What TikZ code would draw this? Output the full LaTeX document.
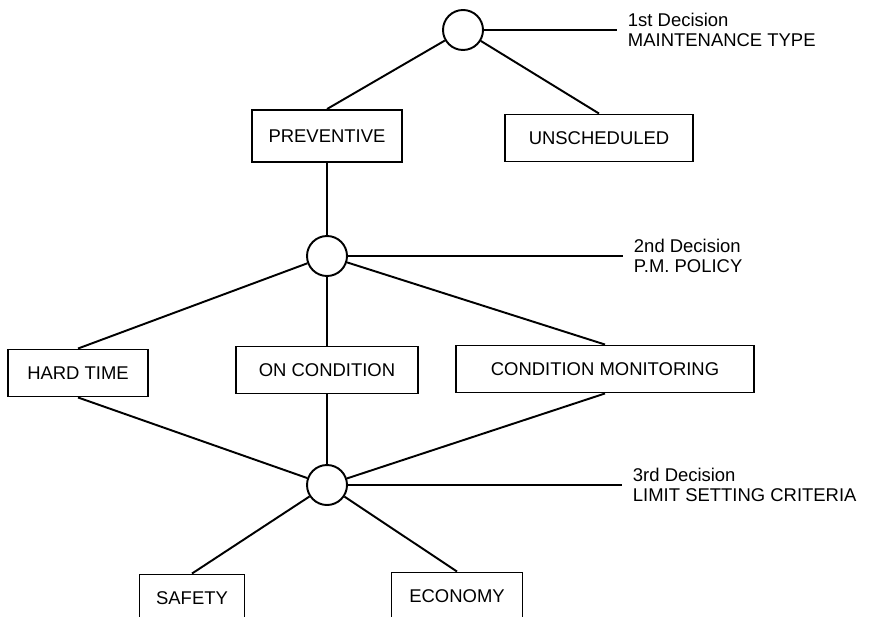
\documentclass[tikz,border=0pt]{standalone}
\usepackage{fontspec}
\setmainfont{Liberation Sans}
\begin{document}
\fontsize{10.5}{11.6}\selectfont
\begin{tikzpicture}[x=1cm,y=1cm,line width=1.1pt,
  choice/.style={draw,circle,minimum size=0.8cm,inner sep=0pt},
  box/.style={draw,rectangle,minimum height=0.94cm,inner sep=2pt},
  note/.style={anchor=west,align=left,inner sep=0.2cm}]
\useasboundingbox (0,0) rectangle (17.42,12.32);

\node[choice] (d1) at (9.26,11.72) {};
\node[choice] (d2) at (6.54,7.20) {};
\node[choice] (d3) at (6.54,2.62) {};

\node[box,minimum width=3.0cm,minimum height=1.04cm] (prev) at (6.54,9.60) {PREVENTIVE};
\node[box,minimum width=3.76cm] (unsch) at (11.98,9.56) {UNSCHEDULED};

\node[box,minimum width=2.8cm] (hard) at (1.56,4.86) {HARD TIME};
\node[box,minimum width=3.64cm] (oncond) at (6.54,4.92) {ON CONDITION};
\node[box,minimum width=5.96cm] (monit) at (12.1,4.94) {CONDITION MONITORING};

\node[box,minimum width=2.1cm] (safety) at (3.84,0.36) {SAFETY};
\node[box,minimum width=2.62cm] (econ) at (9.14,0.40) {ECONOMY};

\node[note] (n1) at (12.34,11.72) {1st Decision\\MAINTENANCE TYPE};
\node[note] (n2) at (12.46,7.20) {2nd Decision\\P.M. POLICY};
\node[note] (n3) at (12.44,2.62) {3rd Decision\\LIMIT SETTING CRITERIA};

\draw (d1) -- (prev.north);
\draw (d1) -- (unsch.north);
\draw (prev.south) -- (d2);

\draw (d2) -- (hard.north);
\draw (d2) -- (oncond.north);
\draw (d2) -- (monit.north);

\draw (hard.south) -- (d3);
\draw (oncond.south) -- (d3);
\draw (monit.south) -- (d3);

\draw (d3) -- (safety.north);
\draw (d3) -- (econ.north);

\draw (d1) -- (n1.west);
\draw (d2) -- (n2.west);
\draw (d3) -- (n3.west);
\end{tikzpicture}
\end{document}
